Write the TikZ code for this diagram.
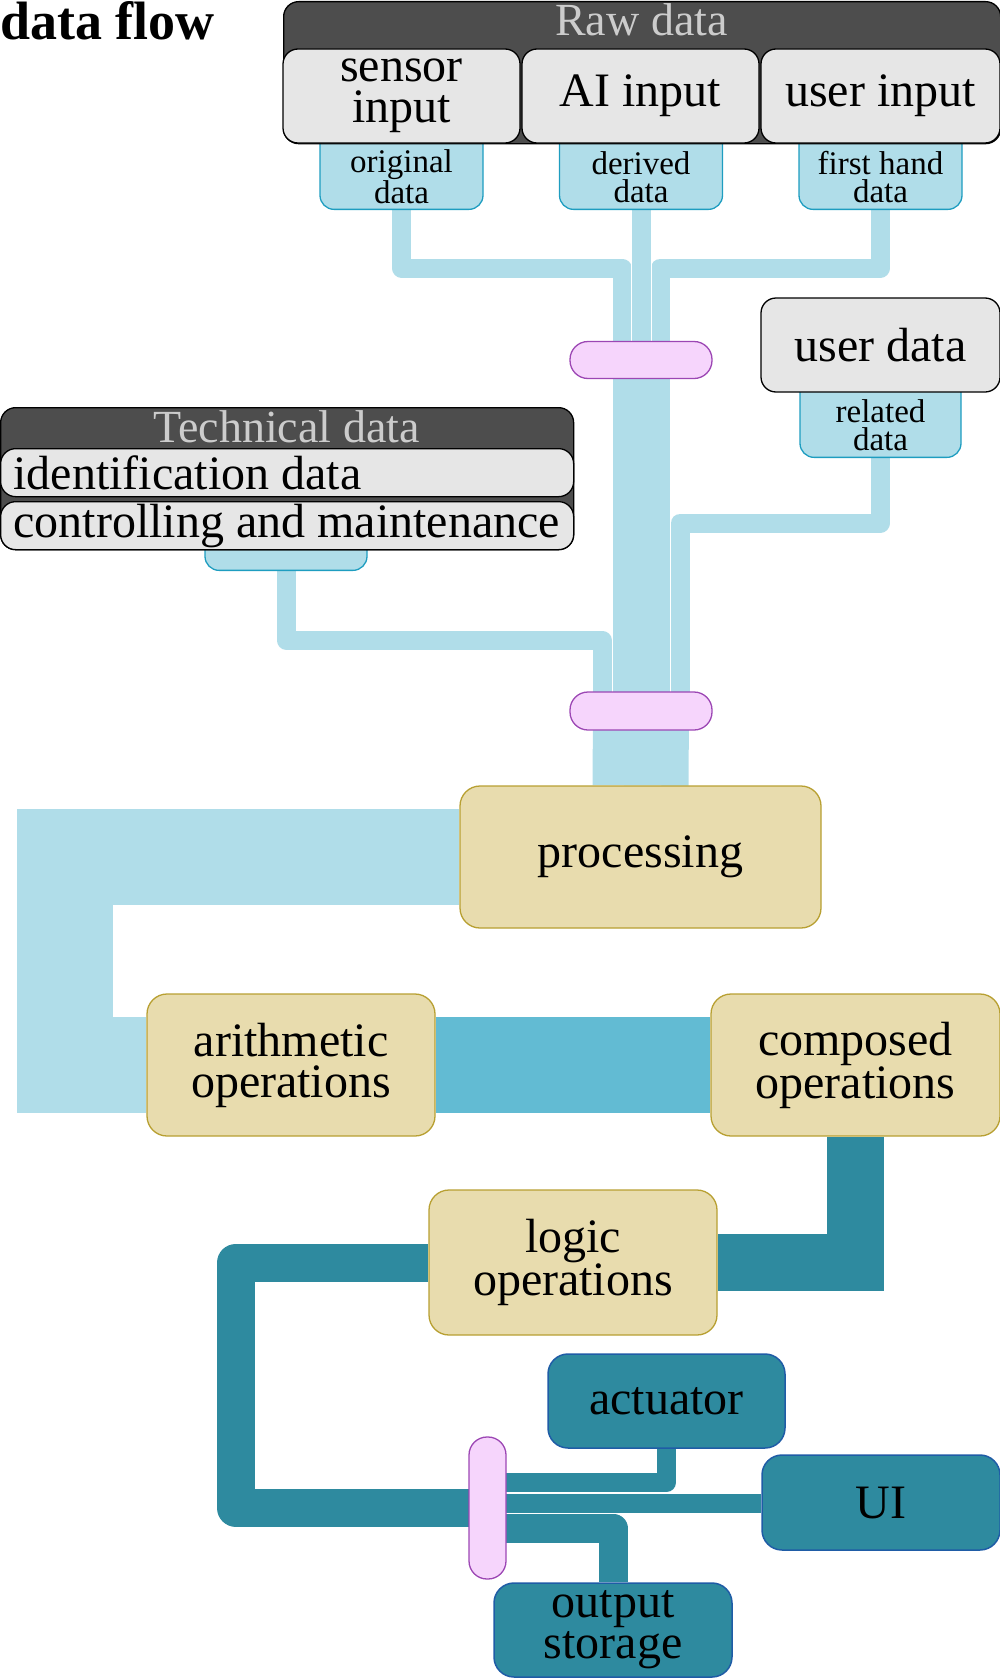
\documentclass[tikz,border=0pt]{standalone}
\usepackage{fontspec}
\setmainfont{Liberation Serif}

\definecolor{groupgray}{HTML}{4D4D4D}
\definecolor{titlegray}{HTML}{CCCCCC}
\definecolor{boxgray}{HTML}{E6E6E6}
\definecolor{tabblue}{HTML}{B0DDE9}
\definecolor{tabline}{HTML}{1E9DC0}
\definecolor{pillpink}{HTML}{F6D5FC}
\definecolor{pillline}{HTML}{9C47B4}
\definecolor{opbeige}{HTML}{E8DCAE}
\definecolor{opline}{HTML}{B8A032}
\definecolor{midblue}{HTML}{62BBD3}
\definecolor{darkteal}{HTML}{2E8A9F}
\definecolor{outline}{HTML}{1F5CA6}

\newcommand\flowboxfont{\fontsize{48}{41}\selectfont}
\newcommand\flowtabfont{\fontsize{33}{28}\selectfont}
\newcommand\flowtitlefont{\fontsize{46}{46}\selectfont}

\pgfdeclarelayer{background}
\pgfsetlayers{background,main}

\tikzset{
  group/.style={draw=black, fill=groupgray, line width=1.3pt, rounded corners=15pt, inner sep=0pt},
  grouptitle/.style={text=titlegray, font=\flowtitlefont, inner sep=0pt, anchor=base},
  inbox/.style={draw=black, fill=boxgray, line width=1.3pt, rounded corners=15pt, inner sep=2pt, font=\flowboxfont, align=center},
  rowbox/.style={draw=black, fill=boxgray, line width=1.3pt, rounded corners=15pt, font=\flowboxfont, anchor=north west, minimum width=573pt, minimum height=48pt, inner ysep=0pt, inner xsep=13pt, text width=547pt, align=flush left},
  tab/.style={draw=tabline, fill=tabblue, line width=1.3pt, rounded corners=14pt, anchor=south, inner sep=0pt},
  tablabel/.style={font=\flowtabfont, align=center, inner sep=0pt},
  pill/.style={draw=pillline, fill=pillpink, line width=1.3pt, rounded corners=18pt, inner sep=0pt},
  opbox/.style={draw=opline, fill=opbeige, line width=1.3pt, rounded corners=20pt, inner sep=2pt, font=\flowboxfont, align=center},
  outbox/.style={draw=outline, fill=darkteal, line width=1.5pt, rounded corners=20pt, inner sep=2pt, font=\flowboxfont, align=center},
  thinflow/.style={draw=tabblue, line width=19pt, line join=round, preaction={draw=white, line width=21pt, line join=round}},
  lightflow/.style={draw=tabblue, line join=miter},
  midflow/.style={draw=midblue, line width=96pt},
  darkflow/.style={draw=darkteal, line join=#1},
  outflow/.style={draw=darkteal, line width=#1, line join=round, preaction={draw=white, line width=#1+2pt, line join=round}},
}

\begin{document}
\begin{tikzpicture}[x=1pt, y=-1pt]
  \useasboundingbox (0,0) rectangle (1000,1678);

  \node[anchor=base west, inner sep=0pt, font=\bfseries\fontsize{54}{54}\selectfont] (title) at (0,40) {data flow};

  % Raw data
  \node[tab, minimum width=163pt, minimum height=87pt] (origtab) at (401.5,210) {};
  \node[tab, minimum width=163pt, minimum height=87pt] (dertab) at (641,210) {};
  \node[tab, minimum width=163pt, minimum height=87pt] (firsttab) at (880.5,210) {};
  \node[tablabel] (origtext) at (401.5,177) {original\\data};
  \node[tablabel] (dertext) at (641,177) {derived\\data};
  \node[tablabel] (firsttext) at (880.5,177) {first hand\\data};
  \node[group, anchor=north west, minimum width=717pt, minimum height=142pt] (raw) at (283,1) {};
  \node[grouptitle] (rawtitle) at (641.5,36) {Raw data};
  \node[inbox, minimum width=237pt, minimum height=94pt] (sensor) at (401.5,96) {sensor\\input};
  \node[inbox, minimum width=237pt, minimum height=94pt] (ai) at (640.5,96) {AI input};
  \node[inbox, minimum width=239pt, minimum height=94pt] (user) at (880.5,96) {user input};

  % user data
  \node[tab, minimum width=161pt, minimum height=86pt] (reltab) at (880.5,458) {};
  \node[tablabel] (reltext) at (880.5,425) {related\\data};
  \node[inbox, minimum width=239pt, minimum height=94pt] (userdata) at (880.5,345) {user data};

  % Technical data
  \node[tab, minimum width=162pt, minimum height=45pt] (techtab) at (286,571) {};
  \node[group, anchor=north west, minimum width=573pt, minimum height=142pt] (tech) at (0,407) {};
  \node[grouptitle] (techtitle) at (286.5,442) {Technical data};
  \node[rowbox] (ident) at (0,448) {\mbox{identification data}};
  \node[rowbox] (ctrl) at (0,501) {\mbox{controlling and maintenance}};

  % merges
  \node[pill, minimum width=142pt, minimum height=37pt] (p1) at (641,360) {};
  \node[pill, minimum width=142pt, minimum height=38pt] (p2) at (641,711) {};
  \node[pill, minimum width=37pt, minimum height=142pt] (p3) at (487.5,1508) {};

  % operations
  \node[opbox, minimum width=361pt, minimum height=142pt] (proc) at (640.5,857) {processing};
  \node[opbox, minimum width=288pt, minimum height=142pt] (arith) at (291,1065) {arithmetic\\operations};
  \node[opbox, minimum width=289pt, minimum height=142pt] (comp) at (855.5,1065) {composed\\operations};
  \node[opbox, minimum width=288pt, minimum height=145pt] (logic) at (573,1262.5) {logic\\operations};

  % outputs
  \node[outbox, minimum width=237pt, minimum height=94pt] (act) at (666.5,1401) {actuator};
  \node[outbox, minimum width=238pt, minimum height=95pt] (ui) at (881,1502.5) {UI};
  \node[outbox, minimum width=238pt, minimum height=94pt] (store) at (613,1630) {output\\storage};

  \begin{pgfonlayer}{background}
    \draw[thinflow] (origtab.south) -- ++(0,58) -| ([xshift=-19pt]p1.center);
    \draw[thinflow] (firsttab.south) -- ++(0,58) -| ([xshift=19pt]p1.center);
    \draw[thinflow] (dertab.south) -- (p1.center);
    \draw[lightflow, line width=57pt] (p1.center) -- (p2.center);
    \draw[thinflow] (techtab.south) -- ++(0,69) -| ([xshift=-39pt]p2.center);
    \draw[thinflow] (reltab.south) -- ++(0,65) -| ([xshift=39pt]p2.center);
    \draw[lightflow, line width=96pt] (p2.center) -- (proc.north);
    \draw[lightflow, line width=96pt] (proc.west) -| ([xshift=-81pt]arith.west) -- (arith.west);
    \draw[midflow] (arith.east) -- (comp.west);
    \draw[darkflow=miter, line width=57pt] (comp.south) |- (logic.east);
    \draw[darkflow=round, line width=38pt] (logic.west) -| ([xshift=-251.5pt]p3.center) -- (p3.center);
    \draw[outflow=19pt] ([yshift=25.5pt]p3.center) -| (act.south);
    \draw[outflow=19pt] ([yshift=5pt]p3.center) -- ([yshift=5pt]p3.center -| ui.west);
    \draw[outflow=29pt] ([yshift=-20pt]p3.center) -| (store.north);
  \end{pgfonlayer}
\end{tikzpicture}
\end{document}
